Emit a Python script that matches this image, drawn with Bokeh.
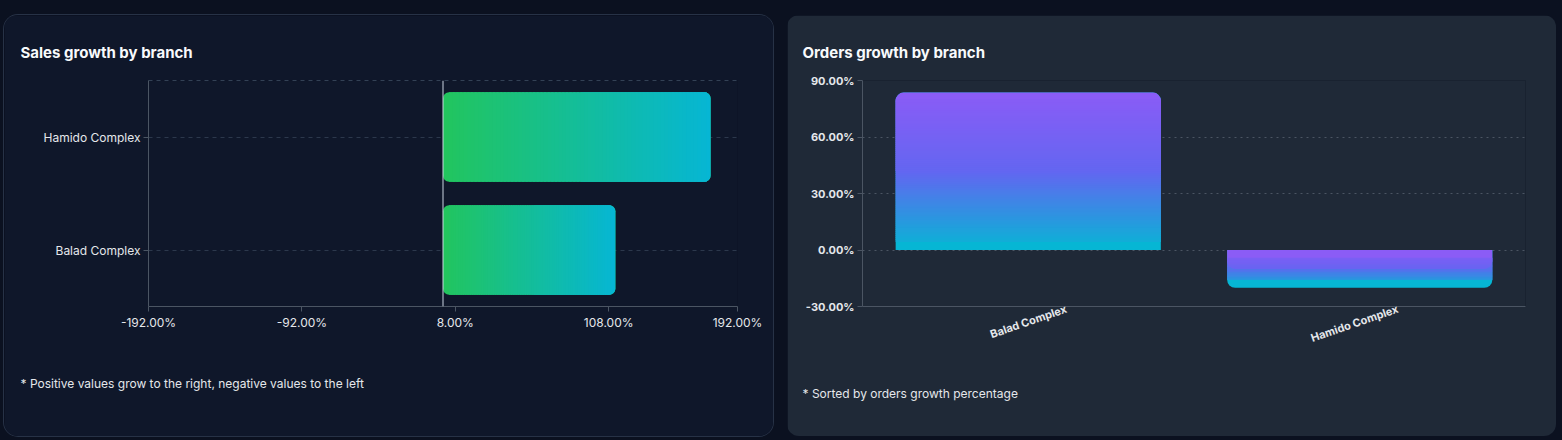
import numpy as np
from bokeh.plotting import figure
from bokeh.models import (FactorRange, Range1d, FixedTicker, PrintfTickFormatter, LinearScale,
                          Span, Title, LinearAxis, GlobalInlineStyleSheet)
from bokeh.layouts import row
from bokeh.embed import file_html
from bokeh.resources import INLINE

# ---------------- data ----------------
sales_branches = ["Hamido Complex", "Balad Complex"]
sales_growth = [174.5, 112.4]
sales_ticks = [-192, -92, 8, 108, 192]
sales_title = "Sales growth by branch"
sales_note = "* Positive values grow to the right, negative values to the left"

orders_branches = ["Balad Complex", "Hamido Complex"]
orders_growth = [83.6, -20.1]
orders_ticks = [-30, 0, 30, 60, 90]
orders_title = "Orders growth by branch"
orders_note = "* Sorted by orders growth percentage"

# ---------------- style ----------------
PAGE_BG = "#0b1120"
LEFT_BG = "#0f172a"
RIGHT_BG = "#1f2937"
AXIS = "#4b5563"
TXT = "#e5e7eb"
FONT = "Inter"
SALES_STOPS = [(0.0, "#22c55e"), (1.0, "#06b6d4")]
ORDER_STOPS = [(0.0, "#8b5cf6"), (0.5, "#6366f1"), (1.0, "#06b6d4")]


def hex2rgb(h):
    h = h.lstrip("#")
    return tuple(int(h[i:i + 2], 16) for i in (0, 2, 4))


def mix(stops, t):
    t = min(max(t, 0.0), 1.0)
    for (p0, c0), (p1, c1) in zip(stops[:-1], stops[1:]):
        if t <= p1:
            f = (t - p0) / (p1 - p0) if p1 > p0 else 0.0
            a, b = hex2rgb(c0), hex2rgb(c1)
            return "#%02x%02x%02x" % tuple(round(a[i] + (b[i] - a[i]) * f) for i in range(3))
    return stops[-1][1]


def style_title(t, size, bold):
    t.text_font = FONT
    t.text_font_size = size
    t.text_font_style = "bold" if bold else "normal"
    t.text_color = "#f8fafc" if bold else TXT
    t.align = "left"


H = 421
N = 70
# ---------------- left chart ----------------
W1, ML1, MR1, MT1, MB1 = 769, 144, 36, 65, 83
x_lo, x_hi = min(sales_ticks), max(sales_ticks)
p1 = figure(width=W1, height=H, x_range=Range1d(x_lo, x_hi),
            y_range=FactorRange(factors=list(reversed(sales_branches))),
            output_backend="svg", toolbar_location=None,
            min_border_left=ML1, min_border_right=MR1, min_border_top=MT1, min_border_bottom=MB1,
            background_fill_color=LEFT_BG, border_fill_color=LEFT_BG, outline_line_color=None,
            margin=(15, 0, 0, 4))
p1.styles = {"border-radius": "14px", "overflow": "hidden", "box-shadow": "0 0 0 1px #273246"}

ux1 = (W1 - ML1 - MR1) / (x_hi - x_lo)
R1 = 6
bh1 = 0.79
for name, v in zip(sales_branches, sales_growth):
    lo, hi = min(0, v), max(0, v)
    rd = R1 / ux1
    start_c, end_c = SALES_STOPS[0][1], SALES_STOPS[-1][1]
    p1.hbar(y=[name], left=[lo], right=[hi], height=bh1, fill_color=start_c if v >= 0 else end_c,
            line_color=None, border_radius=R1)
    p1.hbar(y=[name], left=[(lo + hi) / 2], right=[hi], height=bh1,
            fill_color=end_c if v >= 0 else start_c, line_color=None, border_radius=R1)
    inner0, inner1 = lo + rd, hi - rd
    step = (inner1 - inner0) / N
    lefts = [inner0 + i * step for i in range(N)]
    rights = [l + step * 1.6 for l in lefts]
    cols = [mix(SALES_STOPS, abs(l + step / 2) / abs(v)) for l in lefts]
    p1.hbar(y=[name] * N, left=lefts, right=rights, height=bh1, fill_color=cols, line_color=None)

p1.add_layout(Span(location=0, dimension="height", line_color="#cbd5e1", line_width=1))

p1.xaxis.ticker = FixedTicker(ticks=sales_ticks)
p1.xaxis.formatter = PrintfTickFormatter(format="%.2f%%")
for ax in (p1.xaxis[0], p1.yaxis[0]):
    ax.axis_line_color = AXIS
    ax.major_tick_line_color = AXIS
    ax.major_tick_in = 0
    ax.major_tick_out = 5
    ax.minor_tick_line_color = None
    ax.major_label_text_color = TXT
    ax.major_label_text_font = FONT
    ax.major_label_text_font_size = "12px"
    ax.major_label_standoff = 3
p1.xgrid.grid_line_color = None
p1.ygrid.grid_line_color = "#334155"
p1.ygrid.grid_line_dash = "4 4"
p1.ygrid.grid_line_alpha = 0.8

top_ax = LinearAxis(ticker=FixedTicker(ticks=[]), axis_line_color="#334155", axis_line_dash="4 4",
                    major_tick_line_color=None, minor_tick_line_color=None)
p1.add_layout(top_ax, "above")

p1.title.text = sales_title
style_title(p1.title, "15px", True)
p1.title.offset = -128
p1.title.standoff = 37
note1 = Title(text=sales_note, offset=-128, standoff=82)
style_title(note1, "12px", False)
p1.add_layout(note1, "below")

# ---------------- right chart ----------------
W2, ML2, MR2, MT2, MB2 = 769, 75, 31, 65, 130
y_lo, y_hi = min(orders_ticks), max(orders_ticks)
n_cat = len(orders_branches)
centers = [i + 0.5 for i in range(n_cat)]   # category slots on a numeric scale
p2 = figure(width=W2, height=H, x_range=Range1d(0, n_cat),
            y_range=Range1d(y_lo, y_hi), x_axis_location=None,
            output_backend="svg", toolbar_location=None,
            min_border_left=ML2, min_border_right=MR2, min_border_top=MT2, min_border_bottom=MB2,
            background_fill_color=RIGHT_BG, border_fill_color=RIGHT_BG, outline_line_color=None,
            margin=(15, 0, 0, 0))
p2.styles = {"border-radius": "12px", "overflow": "hidden"}

uy2 = (H - MT2 - MB2) / (y_hi - y_lo)
R2 = 8
bw2 = 0.8
for cx, v in zip(centers, orders_growth):
    lo, hi = min(0, v), max(0, v)
    rd = R2 / uy2
    rad = (R2, R2, 0, 0) if v >= 0 else (0, 0, R2, R2)
    top_c, bot_c = ORDER_STOPS[0][1], ORDER_STOPS[-1][1]
    p2.vbar(x=[cx], bottom=[lo], top=[hi], width=bw2, fill_color=bot_c, line_color=None,
            border_radius=rad)
    p2.vbar(x=[cx], bottom=[(lo + hi) / 2], top=[hi], width=bw2, fill_color=top_c,
            line_color=None, border_radius=rad)
    inner0, inner1 = lo + rd, hi - rd
    step = (inner1 - inner0) / N
    bots = [inner0 + i * step for i in range(N)]
    tops = [b + step * 1.6 for b in bots]
    cols = [mix(ORDER_STOPS, (hi - (b + step / 2)) / (hi - lo)) for b in bots]
    p2.vbar(x=[cx] * N, bottom=bots, top=tops, width=bw2, fill_color=cols, line_color=None)

p2.yaxis.ticker = FixedTicker(ticks=orders_ticks)
p2.yaxis.formatter = PrintfTickFormatter(format="%.2f%%")
ya = p2.yaxis[0]
ya.axis_line_color = AXIS
ya.major_tick_line_color = AXIS
ya.major_tick_in = 0
ya.major_tick_out = 5
ya.minor_tick_line_color = None
ya.major_label_text_color = TXT
ya.major_label_text_font = FONT
ya.major_label_text_font_style = "bold"
ya.major_label_text_font_size = "11px"
ya.major_label_standoff = 3
p2.xgrid.grid_line_color = None
p2.ygrid.grid_line_color = AXIS
p2.ygrid.grid_line_dash = "2 4"

# category axis: rotated names centred under each category (shifted label range)
shift = 38 / ((W2 - ML2 - MR2) / n_cat)
p2.extra_x_ranges = {"lbl": Range1d(-shift, n_cat - shift)}
p2.extra_x_scales = {"lbl": LinearScale()}
xa = LinearAxis(x_range_name="lbl", ticker=FixedTicker(ticks=centers),
                major_label_overrides={c: nm for c, nm in zip(centers, orders_branches)},
                major_label_orientation=0.33, axis_line_color=AXIS,
                major_tick_line_color=None, minor_tick_line_color=None,
                major_label_text_color=TXT, major_label_text_font=FONT,
                major_label_text_font_style="bold", major_label_text_font_size="11px",
                major_label_standoff=-4)
p2.add_layout(xa, "below")

p2.title.text = orders_title
style_title(p2.title, "15px", True)
p2.title.offset = -60
p2.title.standoff = 38
note2 = Title(text=orders_note, offset=-60, standoff=58)
style_title(note2, "12px", False)
p2.add_layout(note2, "below")

layout = row(p1, p2, spacing=14,
             stylesheets=[GlobalInlineStyleSheet(css="html, body { background-color: %s; }" % PAGE_BG)])

open("out.html", "w").write(file_html(layout, INLINE))
